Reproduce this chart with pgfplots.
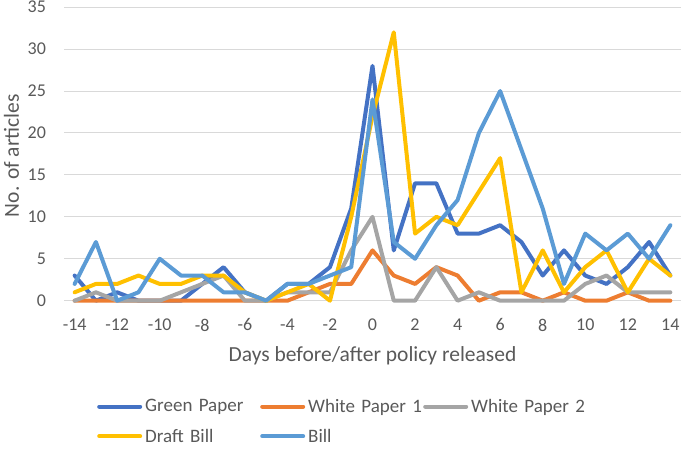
\documentclass[border=0pt]{standalone}
\usepackage{pgfplots}
\pgfplotsset{compat=1.18}
\usepackage{pgfplotstable}
\usepackage{fontspec}
\setmainfont{Carlito}

\definecolor{gp}{HTML}{4472C4}
\definecolor{wpone}{HTML}{ED7D31}
\definecolor{wptwo}{HTML}{A5A5A5}
\definecolor{draft}{HTML}{FFC000}
\definecolor{bill}{HTML}{5B9BD5}
\definecolor{txt}{HTML}{595959}
\definecolor{grd}{HTML}{D9D9D9}

% articles per day around each release
\pgfplotstableread{
day gp wp1 wp2 draft bill
-14 3 0 0 1 2
-13 0 0 1 2 7
-12 1 0 0 2 0
-11 0 0 0 3 1
-10 0 0 0 2 5
-9  0 0 1 2 3
-8  2 0 2 3 3
-7  4 0 3 3 1
-6  1 0 0 1 1
-5  0 0 0 0 0
-4  2 0 1 1 2
-3  2 1 1 2 2
-2  4 2 1 0 3
-1  11 2 6 10 4
0   28 6 10 22 24
1   6 3 0 32 7
2   14 2 0 8 5
3   14 4 4 10 9
4   8 3 0 9 12
5   8 0 1 13 20
6   9 1 0 17 25
7   7 1 0 1 18
8   3 0 0 6 11
9   6 1 0 1 2
10  3 0 2 4 8
11  2 0 3 6 6
12  4 1 1 1 8
13  7 0 1 5 5
14  3 0 1 3 9
}\data

\begin{document}
\begin{tikzpicture}[x=1pt,y=1pt]
\path[use as bounding box] (0,0) rectangle (685,457);
\begin{axis}[
    at={(64pt,156.3pt)}, anchor=south west,
    scale only axis, width=617pt, height=293.5pt,
    xmin=-14.5, xmax=14.5, ymin=0, ymax=35,
    xtick={-14,-12,...,14}, ytick={0,5,...,35},
    axis line style={draw=none}, tick style={draw=none},
    ymajorgrids, major grid style={draw=grd, line width=1pt},
    clip=false,
    /pgf/number format/assume math mode=true,
    tick label style={font=\fontsize{18}{21}\selectfont, text=txt},
    xticklabel style={yshift=-14.5pt},
    yticklabel style={xshift=-14.5pt},
    xlabel={Days before/after policy released},
    ylabel={No. of articles},
    label style={font=\fontsize{21.5}{25}\selectfont, text=txt},
    xlabel style={at={(axis description cs:0.5,-0.189)}, anchor=center},
    ylabel style={at={(axis description cs:-0.085,0.494)}, anchor=center},
    legend columns=3,
    legend cell align=left,
    legend image code/.code={\draw[#1] (2pt,0pt) -- (43pt,0pt);},
    legend style={at={(axis description cs:0.0535,-0.335)}, anchor=north west,
        draw=none, fill=none, inner sep=0pt,
        font=\fontsize{19}{23}\selectfont, text=txt,
        row sep=15pt,
        /tikz/every odd column/.style={column sep=3pt},
        /tikz/every even column/.style={column sep=0pt},
        nodes={text width=115pt, inner sep=0pt}},
    every axis plot/.append style={line width=4pt, line join=round, line cap=round},
]
\addplot[gp] table[x=day, y=gp] {\data};
\addplot[wpone] table[x=day, y=wp1] {\data};
\addplot[wptwo] table[x=day, y=wp2] {\data};
\addplot[draft] table[x=day, y=draft] {\data};
\addplot[bill] table[x=day, y=bill] {\data};
\legend{Green Paper, White Paper 1, White Paper 2, Draft Bill, Bill}
\end{axis}
\end{tikzpicture}
\end{document}
